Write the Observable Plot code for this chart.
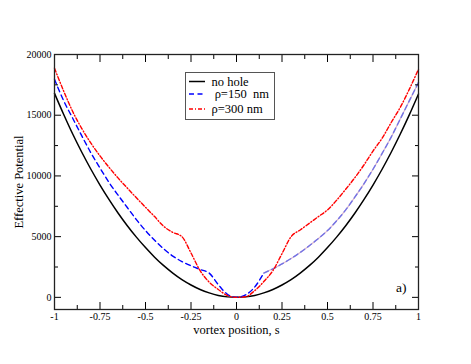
<!DOCTYPE html>
<html><head><meta charset="utf-8">
<script src="https://cdn.jsdelivr.net/npm/d3@7"></script>
<script src="https://cdn.jsdelivr.net/npm/@observablehq/plot@0.6"></script>
<style>
body{margin:0;background:#fff}
svg{font-family:"Liberation Serif","Times New Roman",serif}
</style>
</head><body><div id="chart"></div>
<script>
// vortex position s
const positions = [-1,-0.95,-0.9,-0.85,-0.8,-0.75,-0.7,-0.65,-0.6,-0.55,-0.5,-0.45,-0.4,-0.35,-0.3,-0.25,-0.2,-0.15,-0.1,-0.05,0,
  0.05,0.1,0.15,0.2,0.25,0.3,0.35,0.4,0.45,0.5,0.55,0.6,0.65,0.7,0.75,0.8,0.85,0.9,0.95,1];
const noHole = [16800,15080,13450,11950,10550,9250,8050,6930,5900,4960,4100,3310,2610,2000,1460,1020,650,370,160,40,0,
  40,160,370,650,1020,1460,2000,2610,3310,4100,4960,5900,6930,8050,9250,10550,11950,13450,15050,16750];
const rho150 = [17960,16200,14750,13300,11900,10650,9450,8400,7400,6400,5500,4700,4000,3400,2950,2600,2300,2000,1050,250,0,
  200,850,2000,2350,2750,3200,3700,4250,4850,5500,6300,7200,8250,9350,10550,11850,13200,14700,16200,17700];
const rho300 = [18870,17000,15300,13900,12700,11650,10700,9820,9000,8200,7420,6650,5850,5350,5000,3650,2200,1250,650,150,0,
  50,550,1300,2200,3600,5000,5550,6100,6650,7200,8000,8900,9850,10900,12050,13100,14400,15650,17150,18790];

const seriesNames = ["no hole", " \u03c1=150  nm", "\u03c1=300 nm"];
const seriesColors = ["#000000", "#0000ff", "#ff0000"];
const seriesDash = [null, "5,3.5", "4,2,1,2"];

const xMajor = [-1,-0.75,-0.5,-0.25,0,0.25,0.5,0.75,1];
const xMinor = [-0.875,-0.625,-0.375,-0.125,0.125,0.375,0.625,0.875];
const yMajor = [0,5000,10000,15000,20000];
const yMinor = [2500,7500,12500,17500];

const rows = (vals) => positions.map((s, i) => ({s, v: vals[i]}));
const black = rows(noHole), blue = rows(rho150), red = rows(rho300);
const blueL = blue.filter(d => d.s <= 0.15), blueR = blue.filter(d => d.s >= 0.15);

const FONT = '"Liberation Serif","Times New Roman",serif';
const fmt = d => String(d);
const blank = () => "";
const tickAxisX = (ticks, anchor, size) =>
  Plot.axisX({ticks, anchor, tickSize: size, dy: anchor === "bottom" ? -size : size, tickFormat: blank, label: null, strokeWidth: 1});
const tickAxisY = (ticks, anchor, size) =>
  Plot.axisY({ticks, anchor, tickSize: size, dx: anchor === "left" ? size : -size, tickFormat: blank, label: null, strokeWidth: 1});

const svg = Plot.plot({
  width: 471, height: 364,
  marginLeft: 54, marginRight: 53, marginTop: 54, marginBottom: 55,
  x: {domain: [-1, 1]},
  y: {domain: [-1000, 20000]},
  style: {fontFamily: FONT, fontSize: "10px", background: "#fff", color: "#000"},
  marks: [
    Plot.line(black, {x: "s", y: "v", stroke: seriesColors[0], strokeWidth: 1.5, curve: "monotone-x"}),
    Plot.line(blueR, {x: "s", y: "v", stroke: "#dcb8cc", strokeWidth: 1.2, curve: "monotone-x"}),
    Plot.line(blueR, {x: "s", y: "v", stroke: "#7272e6", strokeWidth: 1.4, strokeDasharray: seriesDash[1], curve: "monotone-x"}),
    Plot.line(blueL, {x: "s", y: "v", stroke: seriesColors[1], strokeWidth: 1.4, strokeDasharray: seriesDash[1], curve: "monotone-x"}),
    Plot.line(red, {x: "s", y: "v", stroke: seriesColors[2], strokeWidth: 1.4, strokeDasharray: seriesDash[2], curve: "monotone-x"}),
    // inward ticks on all four sides
    tickAxisX(xMajor, "bottom", 7), tickAxisX(xMinor, "bottom", 4),
    tickAxisX(xMajor, "top", 7), tickAxisX(xMinor, "top", 4),
    tickAxisY(yMajor, "left", 7), tickAxisY(yMinor, "left", 4),
    tickAxisY(yMajor, "right", 7), tickAxisY(yMinor, "right", 4),
    // tick labels
    Plot.axisX({ticks: xMajor, anchor: "bottom", tickSize: 0, tickPadding: 3, tickFormat: fmt, label: null, fontSize: 10}),
    Plot.axisY({ticks: yMajor, anchor: "left", tickSize: 0, tickPadding: 3, tickFormat: fmt, label: null, fontSize: 10}),
    Plot.frame({stroke: "#222", strokeWidth: 1.3}),
    Plot.text(["vortex position, s"], {frameAnchor: "bottom", dy: 20, fontSize: 12.5, textAnchor: "middle", lineAnchor: "middle"}),
    Plot.text(["Effective Potential"], {frameAnchor: "left", dx: -36, rotate: -90, fontSize: 12.5, textAnchor: "middle", lineAnchor: "middle"}),
    Plot.text(["a)"], {frameAnchor: "bottom-right", dx: -12, dy: -18, fontSize: 13.5, textAnchor: "end", lineAnchor: "bottom"})
  ]
});

// legend
const g = d3.select(svg).append("g").attr("class", "legend")
  .attr("text-anchor", "start").attr("font-family", FONT).style("font-family", FONT);
g.append("rect").attr("x", 185.5).attr("y", 72.5).attr("width", 89).attr("height", 47)
  .attr("fill", "#fff").attr("stroke", "#555").attr("stroke-width", 1);
const rowY = [81.5, 94, 109];
seriesNames.forEach((name, i) => {
  const line = g.append("line").attr("x1", 189).attr("x2", 205).attr("y1", rowY[i]).attr("y2", rowY[i])
    .attr("stroke", seriesColors[i]).attr("stroke-width", 1.5);
  if (seriesDash[i]) line.attr("stroke-dasharray", seriesDash[i]);
  g.append("text").attr("x", 211.5).attr("y", rowY[i]).attr("dy", "0.35em").attr("text-anchor", "start")
    .attr("font-size", 12.5).attr("fill", "#000").style("font-family", FONT).style("white-space", "pre").text(name);
});

document.getElementById("chart").append(svg);
</script>
</body></html>
